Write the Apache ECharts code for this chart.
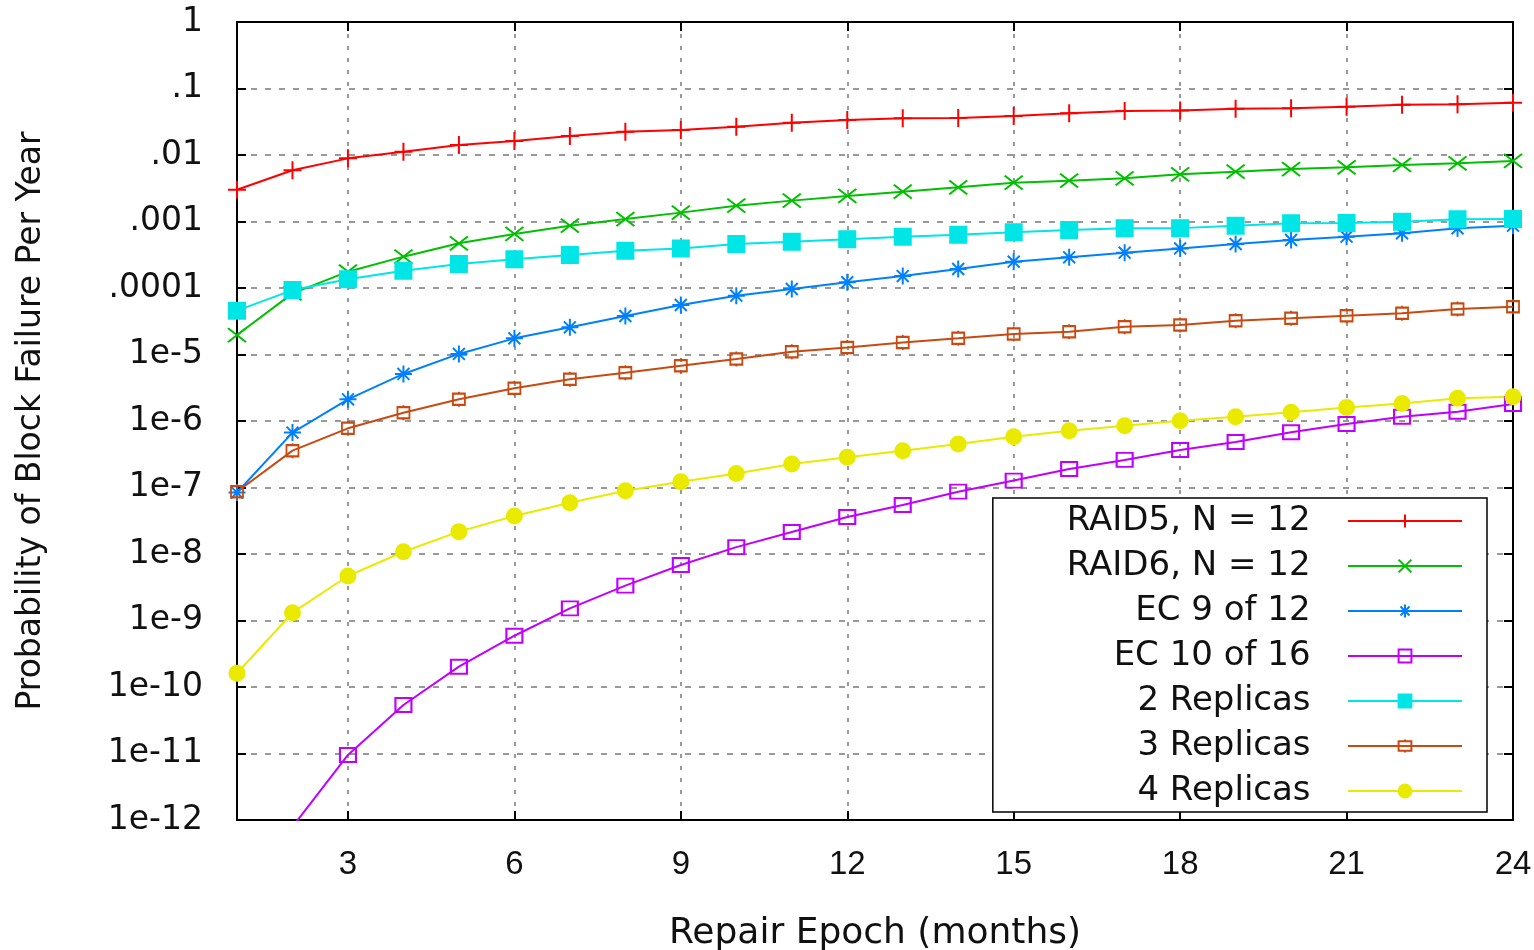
<!DOCTYPE html>
<html>
<head>
<meta charset="utf-8">
<script src="https://cdn.jsdelivr.net/npm/echarts@6/dist/echarts.min.js"></script>
<style>
  html, body { margin: 0; padding: 0; background: #fff; }
  #chart { width: 1534px; height: 950px; }
</style>
</head>
<body>
<div id="chart"></div>
<script>
// repair epoch in months
var months = [1, 2, 3, 4, 5, 6, 7, 8, 9, 10, 11, 12, 13, 14, 15, 16, 17, 18, 19, 20, 21, 22, 23, 24];
var xTickLabels = [3, 6, 9, 12, 15, 18, 21, 24];
var yTickLabels = ["1", ".1", ".01", ".001", ".0001", "1e-5", "1e-6", "1e-7", "1e-8", "1e-9", "1e-10", "1e-11", "1e-12"];

// probability of block failure per year
var raid5 = [3.0e-3, 5.9e-3, 8.9e-3, 1.12e-2, 1.41e-2, 1.62e-2, 1.93e-2, 2.24e-2, 2.38e-2, 2.67e-2, 3.06e-2, 3.36e-2, 3.56e-2, 3.6e-2, 3.86e-2, 4.23e-2, 4.59e-2, 4.65e-2, 4.98e-2, 5.05e-2, 5.33e-2, 5.7e-2, 5.8e-2, 6.12e-2];
var raid6 = [1.96e-5, 8.3e-5, 1.76e-4, 2.96e-4, 4.7e-4, 6.5e-4, 8.65e-4, 1.09e-3, 1.36e-3, 1.73e-3, 2.06e-3, 2.42e-3, 2.81e-3, 3.27e-3, 3.84e-3, 4.11e-3, 4.46e-3, 5.12e-3, 5.61e-3, 6.15e-3, 6.52e-3, 7.08e-3, 7.5e-3, 8.13e-3];
var ec9of12 = [8.4e-8, 6.7e-7, 2.12e-6, 5.1e-6, 1.02e-5, 1.75e-5, 2.56e-5, 3.79e-5, 5.55e-5, 7.67e-5, 9.66e-5, 1.22e-4, 1.51e-4, 1.93e-4, 2.49e-4, 2.89e-4, 3.4e-4, 3.94e-4, 4.59e-4, 5.27e-4, 5.91e-4, 6.64e-4, 7.89e-4, 8.65e-4];
var ec10of16 = [1.5e-14, 7.9e-13, 9.5e-12, 5.36e-11, 2.02e-10, 5.9e-10, 1.52e-9, 3.34e-9, 6.84e-9, 1.27e-8, 2.14e-8, 3.6e-8, 5.46e-8, 8.65e-8, 1.27e-7, 1.9e-7, 2.6e-7, 3.66e-7, 4.83e-7, 6.76e-7, 9.0e-7, 1.16e-6, 1.38e-6, 1.8e-6];
var replicas2 = [4.56e-5, 9.3e-5, 1.35e-4, 1.82e-4, 2.3e-4, 2.7e-4, 3.13e-4, 3.64e-4, 3.94e-4, 4.59e-4, 4.98e-4, 5.4e-4, 5.91e-4, 6.34e-4, 6.87e-4, 7.45e-4, 7.89e-4, 7.95e-4, 8.65e-4, 9.4e-4, 9.5e-4, 9.93e-4, 1.08e-3, 1.09e-3];
var replicas3 = [8.65e-8, 3.58e-7, 7.76e-7, 1.33e-6, 2.12e-6, 3.1e-6, 4.23e-6, 5.33e-6, 6.79e-6, 8.55e-6, 1.1e-5, 1.27e-5, 1.51e-5, 1.75e-5, 2.03e-5, 2.2e-5, 2.62e-5, 2.78e-5, 3.23e-5, 3.5e-5, 3.84e-5, 4.16e-5, 4.83e-5, 5.24e-5];
var replicas4 = [1.61e-10, 1.31e-9, 4.67e-9, 1.08e-8, 2.17e-8, 3.72e-8, 5.9e-8, 8.95e-8, 1.22e-7, 1.63e-7, 2.26e-7, 2.84e-7, 3.58e-7, 4.51e-7, 5.81e-7, 7.15e-7, 8.5e-7, 1.01e-6, 1.16e-6, 1.35e-6, 1.6e-6, 1.84e-6, 2.19e-6, 2.32e-6];

var FONT = "Liberation Sans";
var WIDE = "DejaVu Sans";

function showTick(index, value) {
  return xTickLabels.indexOf(Number(value)) >= 0;
}

function mkSeries(name, data, color, symbol, size, hollow) {
  return {
    name: name,
    type: "line",
    data: data,
    symbol: symbol,
    symbolSize: size,
    showSymbol: true,
    clip: true,
    lineStyle: { color: color, width: 2 },
    itemStyle: {
      color: hollow ? "rgba(0,0,0,0)" : color,
      borderColor: color,
      borderWidth: 2,
    },
    emphasis: { disabled: true },
  };
}

var myChart = echarts.init(document.getElementById("chart"));
myChart.setOption({
  animation: false,
  backgroundColor: "#fff",
  textStyle: { fontFamily: FONT },
  grid: {
    left: 237,
    right: 21,
    top: 22,
    bottom: 130,
    outerBoundsMode: "none",
    containLabel: false,
    show: true,
    borderColor: "#000",
    borderWidth: 2,
    backgroundColor: "transparent",
  },
  legend: {
    orient: "vertical",
    align: "right",
    right: 47,
    top: 498,
    itemWidth: 114,
    itemHeight: 16,
    itemGap: 11,
    padding: [6, 24, 4, 74],
    borderColor: "#000",
    borderWidth: 1.5,
    backgroundColor: "#fff",
    formatter: function (name) {
      return name + "   ";
    },
    textStyle: { fontFamily: WIDE, fontSize: 34, color: "#111", lineHeight: 30 },
  },
  xAxis: [
    {
      type: "category",
      data: months,
      boundaryGap: false,
      name: "Repair Epoch (months)",
      nameLocation: "middle",
      nameGap: 96,
      nameTextStyle: { fontFamily: WIDE, fontSize: 36, color: "#111" },
      axisLine: { lineStyle: { color: "#000", width: 2 } },
      axisTick: { inside: true, length: 9, interval: showTick, lineStyle: { color: "#000", width: 2 } },
      axisLabel: { interval: showTick, margin: 28, fontFamily: FONT, fontSize: 33, color: "#111" },
      splitLine: { show: true, interval: showTick, lineStyle: { color: "#999", width: 2, type: [4, 8] } },
    },
    {
      type: "category",
      data: months,
      boundaryGap: false,
      position: "top",
      axisLine: { lineStyle: { color: "#000", width: 2 } },
      axisTick: { inside: true, length: 9, interval: showTick, lineStyle: { color: "#000", width: 2 } },
      axisLabel: { show: false },
      splitLine: { show: false },
    },
  ],
  yAxis: [
    {
      type: "log",
      logBase: 10,
      min: 1e-12,
      max: 1,
      splitNumber: 12,
      interval: 1,
      name: "Probability of Block Failure Per Year",
      nameLocation: "middle",
      nameGap: 189,
      nameTextStyle: { fontFamily: WIDE, fontSize: 33, color: "#111" },
      axisLine: { show: true, lineStyle: { color: "#000", width: 2 } },
      axisTick: { show: true, inside: true, length: 9, lineStyle: { color: "#000", width: 2 } },
      axisLabel: {
        margin: 34,
        fontFamily: WIDE,
        fontSize: 33,
        color: "#111",
        formatter: function (v) {
          var e = Math.round(Math.log10(v));
          return yTickLabels[-e] || "";
        },
      },
      splitLine: { show: true, lineStyle: { color: "#999", width: 2, type: [6, 8] } },
    },
    {
      type: "log",
      logBase: 10,
      min: 1e-12,
      max: 1,
      splitNumber: 12,
      interval: 1,
      position: "right",
      axisLine: { show: true, lineStyle: { color: "#000", width: 2 } },
      axisTick: { show: true, inside: true, length: 9, lineStyle: { color: "#000", width: 2 } },
      axisLabel: { show: false },
      splitLine: { show: false },
    },
  ],
  series: [
    mkSeries("RAID5, N = 12", raid5, "#ff0000", "path://M0,-1L0,1M-1,0L1,0", 18, false),
    mkSeries("RAID6, N = 12", raid6, "#00c000", "path://M-1,-1L1,1M-1,1L1,-1", [18, 14], false),
    mkSeries("EC 9 of 12", ec9of12, "#0080ff", "path://M0,-1L0,1M-1,0L1,0M-0.7,-0.7L0.7,0.7M-0.7,0.7L0.7,-0.7", 17, false),
    mkSeries("EC 10 of 16", ec10of16, "#c000ff", "path://M-1,-1L1,-1L1,1L-1,1Z", [16, 14], true),
    mkSeries("2 Replicas", replicas2, "#00e5e5", "rect", 16, false),
    mkSeries("3 Replicas", replicas3, "#c84a10", "path://M-0.6,-0.75L0.6,-0.75L0.6,0.75L-0.6,0.75ZM0,-0.75L0,-1M0,0.75L0,1", [12, 15], true),
    mkSeries("4 Replicas", replicas4, "#eaea00", "circle", 15, false),
  ],
});
window.addEventListener("resize", function () {
  myChart.resize();
});
</script>
</body>
</html>
